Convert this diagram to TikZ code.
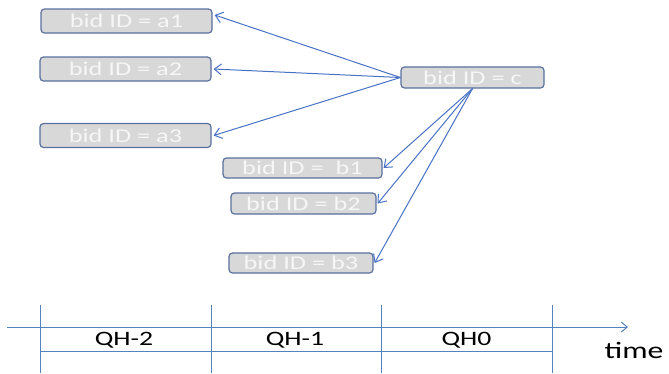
\documentclass[tikz,border=0pt]{standalone}
\usepackage{fontspec}
\setmainfont{Carlito}[FakeStretch=1.35]
\usetikzlibrary{arrows.meta}

\definecolor{boxfill}{RGB}{216,216,216}
\definecolor{boxline}{RGB}{88,112,158}
\definecolor{arrowblue}{RGB}{72,114,196}
\definecolor{axisblue}{RGB}{84,130,190}
\definecolor{labelwhite}{RGB}{246,246,246}

\tikzset{
  bidbox/.style={draw=boxline, fill=boxfill, line width=1.2pt, rounded corners=3.5pt,
    inner sep=0pt, text=labelwhite, font=\fontsize{19.5}{20}\selectfont},
  link/.style={draw=arrowblue, line width=1pt, -{Straight Barb[length=7pt,width=11pt]}},
  axisline/.style={draw=axisblue, line width=1pt},
  qhlabel/.style={inner sep=0pt, text=black, font=\fontsize{20.5}{21}\selectfont},
}

\begin{document}
\begin{tikzpicture}[x=1pt, y=-1pt]
  \useasboundingbox (0,0) rectangle (669,373);

  % bid boxes
  \node[bidbox, minimum width=171pt, minimum height=24pt] (a1) at (126.5,21) {bid ID = a1};
  \node[bidbox, minimum width=171pt, minimum height=24pt] (a2) at (125.5,69) {bid ID = a2};
  \node[bidbox, minimum width=171pt, minimum height=24pt] (a3) at (125.5,135.5) {bid ID = a3};
  \node[bidbox, minimum width=143pt, minimum height=21pt] (c) at (472.5,77.5) {bid ID = c};
  \node[bidbox, minimum width=159pt, minimum height=20pt] (b1) at (302.5,168) {bid ID =\ \ b1};
  \node[bidbox, minimum width=145pt, minimum height=21pt] (b2) at (303.5,203.5) {bid ID = b2};
  \node[bidbox, minimum width=144pt, minimum height=20pt] (b3) at (301,263) {bid ID = b3};

  % dependencies
  \draw[link] (c.west) -- ([xshift=2pt]a1.4);
  \draw[link] (c.west) -- ([xshift=2pt]a2.east);
  \draw[link] (c.west) -- ([xshift=2pt]a3.east);
  \draw[link] (c.south) -- ([xshift=1pt]b1.east);
  \draw[link] (c.south) -- ([xshift=1pt]b2.east);
  \draw[link] (c.south) -- ([xshift=1pt]b3.east);

  % time axis
  \coordinate (axstart) at (7,327);
  \coordinate (axend) at (628,327);
  \draw[axisline, -{Straight Barb[length=6pt,width=10pt]}] (axstart) -- (axend);
  \foreach \x/\n in {40/t0, 211/t1, 381/t2, 552/t3} {
    \coordinate (\n top) at (\x,305);
    \coordinate (\n bot) at (\x,373);
    \coordinate (\n mid) at (\x,351);
    \draw[axisline] (\n top) -- (\n bot);
  }
  \draw[axisline] (t0mid) -- (t3mid);

  \node[qhlabel] (qh2) at (124,340) {QH-2};
  \node[qhlabel] (qh1) at (295,340) {QH-1};
  \node[qhlabel] (qh0) at (466.5,340) {QH0};
  \node[qhlabel, font=\fontsize{23.5}{24}\selectfont] (time) at (634,350) {time};
\end{tikzpicture}
\end{document}
